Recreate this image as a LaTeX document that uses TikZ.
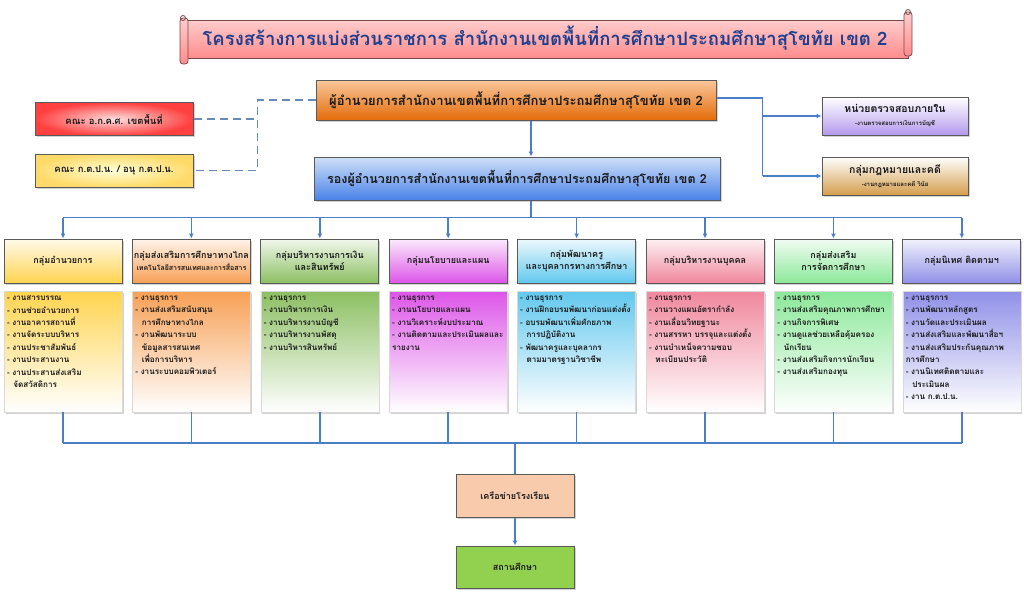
\documentclass[tikz,border=0pt]{standalone}
\usepackage{fontspec}
\newfontfamily\thai[Script=Thai]{Loma}
\usetikzlibrary{arrows.meta,shadows,calc}
\definecolor{conn}{HTML}{4A7EC7}
\definecolor{dashc}{HTML}{6A88B8}
\definecolor{bord}{HTML}{5A5A5A}
\definecolor{ttlblue}{HTML}{1F3F8F}
\definecolor{txt}{HTML}{1A1A1A}
\definecolor{c1}{HTML}{FFD44F}
\definecolor{c2}{HTML}{F7A055}
\definecolor{c3}{HTML}{8CBF62}
\definecolor{c4}{HTML}{DD55E8}
\definecolor{c5}{HTML}{62C8EE}
\definecolor{c6}{HTML}{F0879D}
\definecolor{c7}{HTML}{8CE89A}
\definecolor{c8}{HTML}{9090E8}
\definecolor{dirtop}{HTML}{F9C79B}
\definecolor{dirbot}{HTML}{E46C0A}
\definecolor{deptop}{HTML}{CFE0F8}
\definecolor{depbot}{HTML}{4A82E8}
\definecolor{audbot}{HTML}{B49AEC}
\definecolor{legbot}{HTML}{D49E4C}
\definecolor{netc}{HTML}{F8CBAD}
\definecolor{schc}{HTML}{92D050}
\begin{document}
\begin{tikzpicture}[x=1pt,y=-1pt,
  conn/.style={draw=conn,line width=1.6pt},
  arr/.style={conn,-{Latex[length=5pt,width=5pt]}},
  dsh/.style={draw=dashc,line width=1.2pt,dash pattern=on 8pt off 5pt},
  shad/.style={drop shadow={opacity=0.35,shadow xshift=1.5pt,shadow yshift=-1.5pt}},
  bigbox/.style={draw=bord,line width=1pt,shad,align=center,inner sep=2pt,text=txt},
  leftbox/.style={bigbox,minimum width=158pt,minimum height=33pt,font=\thai\bfseries\fontsize{9.5}{12}\selectfont},
  sidebox/.style={bigbox,minimum width=146pt,minimum height=38pt},
  hdr/.style={bigbox,minimum width=118pt,minimum height=44pt,inner sep=1pt,font=\thai\bfseries\fontsize{9}{12.5}\selectfont},
  lst/.style={draw=gray!30,line width=0.4pt,shad,minimum width=118pt,minimum height=121pt},
  ltxt/.style={anchor=north west,align=left,inner sep=0pt,text width=116pt,text=txt,font=\thai\bfseries\fontsize{8.1}{12.4}\selectfont},
  scrollf/.style={draw=bord!80!red,line width=0.8pt,top color=red!20,bottom color=red!45}
]
\useasboundingbox (0,0) rectangle (1024,592);
\fill[white] (0,0) rectangle (1024,592);

% title scroll
\path[scrollf] (186,20) rectangle (908,58);
\path[scrollf,rounded corners=3pt] (180,18) rectangle (188,64);
\path[scrollf,rounded corners=3pt] (904,12) rectangle (912,56);
\draw[bord!80!red,line width=0.8pt] (183,18) circle (2.5pt);
\draw[bord!80!red,line width=0.8pt] (908,12) circle (2.5pt);
\node[font=\thai\bfseries\fontsize{18.5}{22}\selectfont,text=ttlblue] (ttl) at (545,38)
  {โครงสร้างการแบ่งส่วนราชการ สำนักงานเขตพื้นที่การศึกษาประถมศึกษาสุโขทัย เขต 2};

% top boxes
\node[bigbox,minimum width=400pt,minimum height=40pt,top color=dirtop,bottom color=dirbot,
  font=\thai\bfseries\fontsize{13}{15}\selectfont] (dir) at (516,100)
  {ผู้อำนวยการสำนักงานเขตพื้นที่การศึกษาประถมศึกษาสุโขทัย เขต 2};
\node[bigbox,minimum width=406pt,minimum height=43pt,top color=deptop,bottom color=depbot,
  font=\thai\bfseries\fontsize{12.5}{15}\selectfont] (dep) at (517,178.5)
  {รองผู้อำนวยการสำนักงานเขตพื้นที่การศึกษาประถมศึกษาสุโขทัย เขต 2};

\node[leftbox,inner color=red!12,outer color=red!75] (ak) at (114,119) {คณะ อ.ก.ค.ศ. เขตพื้นที่};
\node[leftbox,inner color=yellow!15,outer color=c1!85] (kt) at (114,170.5) {คณะ ก.ต.ป.น. / อนุ ก.ต.ป.น.};

\node[sidebox,top color=white,bottom color=audbot] (aud) at (895,116)
  {{\thai\bfseries\fontsize{10.5}{13}\selectfont หน่วยตรวจสอบภายใน}\\[1pt]{\thai\bfseries\fontsize{6}{7}\selectfont -งานตรวจสอบการเงินการบัญชี}};
\node[sidebox,top color=white,bottom color=legbot] (leg) at (895,176)
  {{\thai\bfseries\fontsize{10.5}{13}\selectfont กลุ่มกฎหมายและคดี}\\[1pt]{\thai\bfseries\fontsize{6}{7}\selectfont -งานกฎหมายและคดี วินัย}};

% dashed links
\draw[dsh] (dir.west) -- ++(-58,0) coordinate (dj) -- (dj |- kt.east) -- (kt.east);
\draw[dsh] (ak.east) -- (dj |- ak.east);

% right links
\draw[conn] ([yshift=2pt]dir.east) -- ++(46,0) coordinate (rj) -- (rj |- leg.west);
\draw[arr] (rj |- aud.west) -- (aud.west);
\draw[arr] (rj |- leg.west) -- (leg.west);

% director -> deputy
\draw[arr] ([xshift=15pt]dir.south) -- ([xshift=15pt]dir.south |- dep.north);

% group headers and list boxes
\foreach \i/\c/\t in {
  1/c1/{กลุ่มอำนวยการ},
  2/c2/{กลุ่มส่งเสริมการศึกษาทางไกล\\{\fontsize{7}{10}\selectfont เทคโนโลยีสารสนเทศและการสื่อสาร}},
  3/c3/{กลุ่มบริหารงานการเงิน\\และสินทรัพย์},
  4/c4/{กลุ่มนโยบายและแผน},
  5/c5/{กลุ่มพัฒนาครู\\และบุคลากรทางการศึกษา},
  6/c6/{กลุ่มบริหารงานบุคคล},
  7/c7/{กลุ่มส่งเสริม\\การจัดการศึกษา},
  8/c8/{กลุ่มนิเทศ ติดตามฯ}}{
  \node[hdr,top color=\c!12,bottom color=\c] (h\i) at ({63+128.4*(\i-1)},261) {\t};
  \node[lst,top color=\c,bottom color=white] (l\i) at ({63+128.4*(\i-1)},351.5) {};
}

% lists
\node[ltxt] (t1) at ([xshift=3pt,yshift=-5pt]l1.north west) {- งานสารบรรณ\\- งานช่วยอำนวยการ\\- งานอาคารสถานที่\\- งานจัดระบบบริหาร\\- งานประชาสัมพันธ์\\- งานประสานงาน\\- งานประสานส่งเสริม\\\hspace*{0.8em}จัดสวัสดิการ};
\node[ltxt] (t2) at ([xshift=3pt,yshift=-5pt]l2.north west) {- งานธุรการ\\- งานส่งเสริมสนับสนุน\\\hspace*{0.8em}การศึกษาทางไกล\\- งานพัฒนาระบบ\\\hspace*{0.8em}ข้อมูลสารสนเทศ\\\hspace*{0.8em}เพื่อการบริหาร\\- งานระบบคอมพิวเตอร์};
\node[ltxt] (t3) at ([xshift=3pt,yshift=-5pt]l3.north west) {- งานธุรการ\\- งานบริหารการเงิน\\- งานบริหารงานบัญชี\\- งานบริหารงานพัสดุ\\- งานบริหารสินทรัพย์};
\node[ltxt] (t4) at ([xshift=3pt,yshift=-5pt]l4.north west) {- งานธุรการ\\- งานนโยบายและแผน\\- งานวิเคราะห์งบประมาณ\\- งานติดตามและประเมินผลและ\\รายงาน};
\node[ltxt] (t5) at ([xshift=2.5pt,yshift=-5pt]l5.north west) {- งานธุรการ\\- งานฝึกอบรมพัฒนาก่อนแต่งตั้ง\\- อบรมพัฒนาเพิ่มศักยภาพ\\\hspace*{0.8em}การปฏิบัติงาน\\- พัฒนาครูและบุคลากร\\\hspace*{0.8em}ตามมาตรฐานวิชาชีพ};
\node[ltxt] (t6) at ([xshift=3pt,yshift=-5pt]l6.north west) {- งานธุรการ\\- งานวางแผนอัตรากำลัง\\- งานเลื่อนวิทยฐานะ\\- งานสรรหา บรรจุและแต่งตั้ง\\- งานบำเหน็จความชอบ\\\hspace*{0.8em}ทะเบียนประวัติ};
\node[ltxt] (t7) at ([xshift=3pt,yshift=-5pt]l7.north west) {- งานธุรการ\\- งานส่งเสริมคุณภาพการศึกษา\\- งานกิจการพิเศษ\\- งานดูแลช่วยเหลือคุ้มครอง\\\hspace*{0.8em}นักเรียน\\- งานส่งเสริมกิจการนักเรียน\\- งานส่งเสริมกองทุน};
\node[ltxt] (t8) at ([xshift=3pt,yshift=-5pt]l8.north west) {- งานธุรการ\\- งานพัฒนาหลักสูตร\\- งานวัดและประเมินผล\\- งานส่งเสริมและพัฒนาสื่อฯ\\- งานส่งเสริมประกันคุณภาพ\\การศึกษา\\- งานนิเทศติดตามและ\\\hspace*{0.8em}ประเมินผล\\- งาน ก.ต.ป.น.};

% top bus
\draw[conn] ([xshift=14pt]dep.south) -- ++(0,17) coordinate (bus);
\draw[conn] (h1.north |- bus) -- (h8.north |- bus);
\foreach \i in {1,...,8}{\draw[arr] (h\i.north |- bus) -- (h\i.north);}

% bottom
\node[bigbox,fill=netc,minimum width=118pt,minimum height=43pt,
  font=\thai\bfseries\fontsize{9}{12}\selectfont] (net) at (515,495.5) {เครือข่ายโรงเรียน};
\node[bigbox,fill=schc,minimum width=118pt,minimum height=42pt,
  font=\thai\bfseries\fontsize{9}{12}\selectfont] (sch) at (515,567) {สถานศึกษา};
\coordinate (bb) at (515,443);
\foreach \i in {1,...,8}{\draw[conn] (l\i.south) -- (l\i.south |- bb);}
\draw[conn] (l1.south |- bb) -- (l8.south |- bb);
\draw[conn] (net.north |- bb) -- (net.north);
\draw[arr] (net.south) -- (sch.north);
\end{tikzpicture}
\end{document}
